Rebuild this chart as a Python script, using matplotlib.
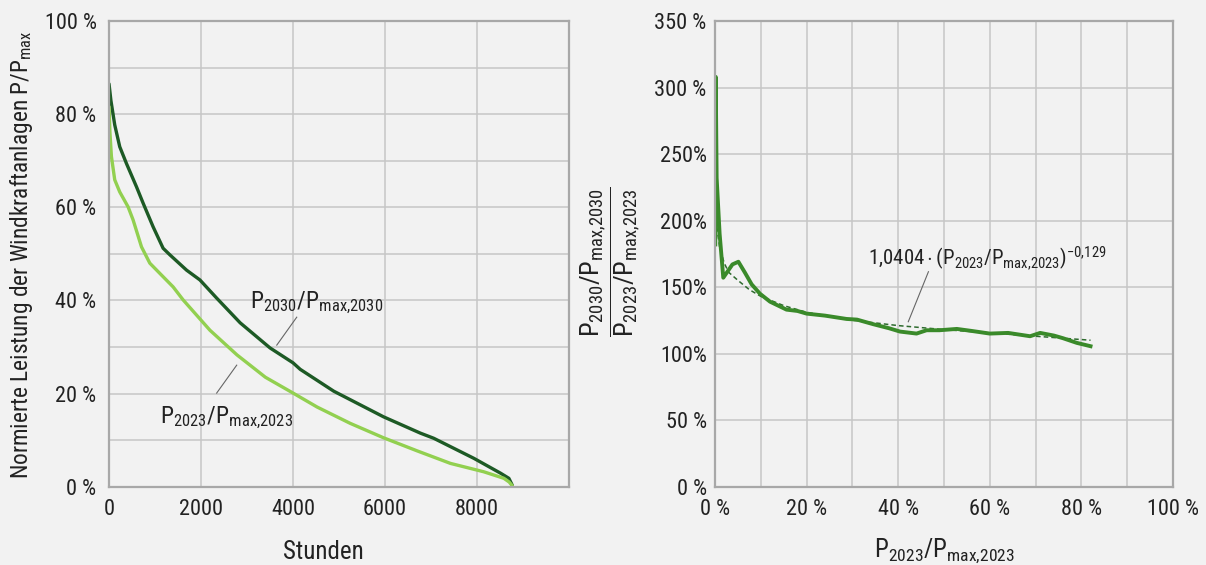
import matplotlib
matplotlib.use("Agg")
import matplotlib.pyplot as plt
import matplotlib.font_manager as fm

# ---- data ----
# left: duration curves (hours, % of max power)
hours_2030 = [0, 40, 124, 233, 379, 597, 741, 959, 1176, 1322, 1686, 1976, 2340, 2850, 3500,
              4000, 4157, 4887, 5969, 6769, 7059, 7930, 8512, 8693, 8767]
share_2030 = [86.5, 83.0, 77.7, 73.0, 69.4, 64.4, 60.9, 55.8, 51.2, 49.8, 46.5, 44.4, 40.5,
              35.2, 29.8, 26.6, 25.2, 20.5, 15.0, 11.5, 10.4, 6.1, 2.9, 1.8, 0.3]

hours_2023 = [0, 20, 52, 124, 233, 414, 523, 706, 887, 1105, 1394, 1612, 2194, 2782, 3400,
              4002, 4525, 5244, 5969, 6697, 7423, 8148, 8584, 8700, 8767]
share_2023 = [81.6, 76.0, 70.9, 65.9, 63.3, 60.1, 57.3, 51.5, 48.0, 45.8, 42.9, 40.1, 33.6,
              28.3, 23.5, 20.1, 17.1, 13.6, 10.5, 7.7, 5.0, 3.2, 1.8, 1.0, 0.2]

# right: ratio of normalised power 2030/2023 over P2023/Pmax,2023 (both in %)
ratio_x = [0.05, 0.15, 0.35, 1.0, 1.8, 2.8, 3.8, 5.1, 6.5, 8.0, 9.8, 12, 15.6, 18, 20, 24,
           28.7, 31, 34.6, 38, 40.4, 44, 46.2, 49, 52.8, 56, 60, 64, 68.8, 71, 74, 76, 79, 82]
ratio_y = [182, 308, 232, 190, 157, 162, 167, 169, 161, 152, 145, 139, 133, 132, 130, 128.5,
           126, 125.5, 122, 119, 116.5, 115, 117.5, 117.5, 118.5, 117, 115, 115.5, 113, 115.5,
           113.5, 111.5, 108, 105.5]

# dashed power-law fit as drawn
fit_x = [0.4, 1, 2, 3, 5, 7.5, 10, 15, 20, 30, 40, 50, 60, 70, 82]
fit_y = [195, 180, 168, 161, 155, 148, 143, 136, 131, 125, 121, 118, 115.5, 113, 110]

left_yticks = [0, 20, 40, 60, 80, 100]
left_yticklabels = ["0 %", "20 %", "40 %", "60 %", "80 %", "100 %"]
left_xticks = [0, 2000, 4000, 6000, 8000]
left_xticklabels = ["0", "2000", "4000", "6000", "8000"]

right_yticks = [0, 50, 100, 150, 200, 250, 300, 350]
right_yticklabels = ["0 %", "50 %", "100%", "150%", "200%", "250%", "300 %", "350 %"]
right_xticks = [0, 20, 40, 60, 80, 100]
right_xticklabels = ["0 %", "20 %", "40 %", "60 %", "80 %", "100 %"]

# ---- style ----
names = {f.name for f in fm.fontManager.ttflist}
FONT = "DejaVu Sans"
for cand in ["Roboto Condensed", "Liberation Sans Narrow", "Open Sans Condensed",
             "Noto Sans Condensed", "Roboto"]:
    if cand in names:
        FONT = cand
        break

plt.rcParams["font.family"] = [FONT, "DejaVu Sans"]
plt.rcParams["mathtext.fontset"] = "custom"
plt.rcParams["mathtext.rm"] = FONT
plt.rcParams["mathtext.it"] = FONT
plt.rcParams["mathtext.bf"] = FONT
plt.rcParams["text.color"] = "#222222"

BG = "#f2f2f2"
GRID = "#c6c6c6"
SPINE = "#a8a8a8"
DARK = "#1d5a25"
LIGHT = "#92d050"
MID = "#3a8a2a"
TXT = "#222222"

fig = plt.figure(figsize=(12.06, 5.65), dpi=100, facecolor=BG)
ax1 = fig.add_axes([0.0904, 0.1386, 0.3814, 0.8242])
ax2 = fig.add_axes([0.5929, 0.1389, 0.3797, 0.8239])

for ax in (ax1, ax2):
    ax.set_facecolor(BG)
    for s in ax.spines.values():
        s.set_color(SPINE)
        s.set_linewidth(1.6)
    ax.tick_params(length=0, labelsize=16, colors=TXT)
    ax.grid(True, which="both", color=GRID, linewidth=1.1)
    ax.set_axisbelow(True)

# ---- left panel ----
ax1.plot(hours_2030, share_2030, color=DARK, lw=2.4, solid_capstyle="round")
ax1.plot(hours_2023, share_2023, color=LIGHT, lw=2.4, solid_capstyle="round")
ax1.set_xlim(0, 10000)
ax1.set_ylim(0, 100)
ax1.set_xticks(left_xticks)
ax1.set_xticklabels(left_xticklabels)
ax1.set_yticks(left_yticks)
ax1.set_yticklabels(left_yticklabels)
ax1.set_yticks(range(0, 101, 10), minor=True)
ax1.tick_params(which="minor", length=0)
ax1.tick_params(axis="y", pad=9)
ax1.tick_params(axis="x", pad=9)
ax1.set_xlabel("Stunden", fontsize=18, color=TXT)
ax1.xaxis.set_label_coords(0.465, -0.115)

ax1.text(4520, 38.3, r"$\mathrm{P_{2030}/P_{max{,}2030}}$", fontsize=17, ha="center",
         va="baseline", color=TXT)
ax1.plot([4081, 3647], [36.4, 30.4], color="#666666", lw=0.8)
ax1.text(2555, 13.7, r"$\mathrm{P_{2023}/P_{max{,}2023}}$", fontsize=17, ha="center",
         va="baseline", color=TXT)
ax1.plot([2340, 2776], [20.1, 26.1], color="#666666", lw=0.8)

fig.text(22 / 1206, 1 - 255 / 565,
         r"Normierte Leistung der Windkraftanlagen P/P$\mathrm{_{max}}$",
         rotation=90, fontsize=16.8, ha="center", va="center", color=TXT)

# ---- right panel ----
ax2.plot(fit_x, fit_y, color="#2e6b2e", lw=1.1, ls=(0, (3, 2)))
ax2.plot(ratio_x, ratio_y, color=MID, lw=2.8, solid_joinstyle="round")
ax2.set_xlim(0, 100)
ax2.set_ylim(0, 350)
ax2.set_xticks(right_xticks)
ax2.set_xticklabels(right_xticklabels)
ax2.set_xticks(range(0, 101, 10), minor=True)
ax2.tick_params(which="minor", length=0)
ax2.set_yticks(right_yticks)
ax2.set_yticklabels(right_yticklabels)
ax2.tick_params(axis="y", pad=6)
ax2.tick_params(axis="x", pad=9)
ax2.set_xlabel(r"$\mathrm{P_{2023}/P_{max{,}2023}}$", fontsize=18, color=TXT, labelpad=12)

ax2.text(33.4, 167, r"$\mathrm{1{,}0404 \cdot (P_{2023}/P_{max{,}2023})^{-0{,}129}}$",
         fontsize=15, ha="left", va="baseline", color=TXT)
ax2.plot([46.6, 42.2], [161.5, 123.9], color="#666666", lw=0.8)

fig.text(610 / 1206, 1 - 262 / 565,
         r"$\dfrac{\mathrm{P_{2030}/P_{max{,}2030}}}{\mathrm{P_{2023}/P_{max{,}2023}}}$",
         rotation=90, fontsize=19, ha="center", va="center", color=TXT)

fig.savefig("out.png", dpi=100, facecolor=BG)
